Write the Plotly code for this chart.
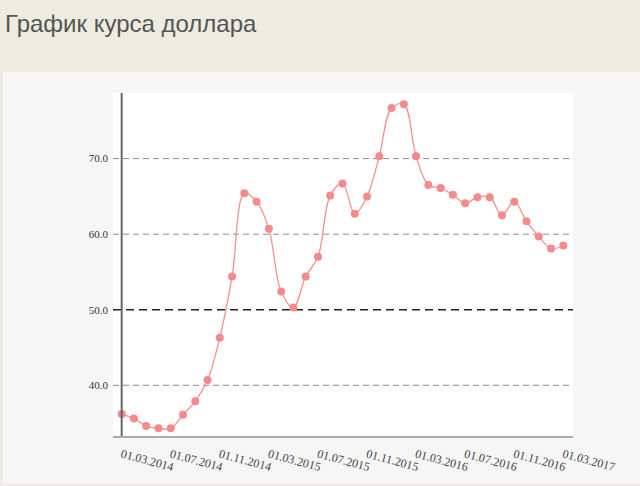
import plotly.graph_objects as go

# monthly dollar rate, 01.03.2014 .. 01.03.2017
dates = ['01.03.2014', '01.04.2014', '01.05.2014', '01.06.2014', '01.07.2014', '01.08.2014',
         '01.09.2014', '01.10.2014', '01.11.2014', '01.12.2014', '01.01.2015', '01.02.2015',
         '01.03.2015', '01.04.2015', '01.05.2015', '01.06.2015', '01.07.2015', '01.08.2015',
         '01.09.2015', '01.10.2015', '01.11.2015', '01.12.2015', '01.01.2016', '01.02.2016',
         '01.03.2016', '01.04.2016', '01.05.2016', '01.06.2016', '01.07.2016', '01.08.2016',
         '01.09.2016', '01.10.2016', '01.11.2016', '01.12.2016', '01.01.2017', '01.02.2017',
         '01.03.2017']
rate = [36.2, 35.6, 34.6, 34.3, 34.3, 36.1, 37.9, 40.7, 46.3, 54.4, 65.4, 64.3,
        60.7, 52.4, 50.3, 54.4, 57.0, 65.1, 66.7, 62.7, 65.0, 70.3, 76.7, 77.2,
        70.3, 66.5, 66.1, 65.2, 64.1, 64.9, 64.9, 62.5, 64.3, 61.7, 59.7, 58.1,
        58.5]
tick_labels = dates[::4]
y_ticks = [40, 50, 60, 70]
dark_level = 50

W, H = 640, 486
L, R, T, B = 113, 67, 93, 48
pw, ph = W - L - R, H - T - B


def px_x(p):
    return (p - L) / pw


def px_y(p):
    return (H - B - p) / ph


fig = go.Figure()

fig.add_trace(go.Scatter(
    x=dates, y=rate,
    mode='lines+markers',
    line=dict(color='#f59090', width=1.3, shape='spline', smoothing=1),
    marker=dict(color='#f48a8a', size=8),
    showlegend=False,
))

shapes = [
    # grey panel under the chart
    dict(type='rect', xref='paper', yref='paper', layer='below',
         x0=px_x(3), x1=px_x(W), y0=px_y(72), y1=px_y(H),
         fillcolor='#f6f6f6', line=dict(width=0)),
    # white plot area on top of the panel
    dict(type='rect', xref='paper', yref='paper', layer='below',
         x0=0, x1=1, y0=0, y1=1,
         fillcolor='#ffffff', line=dict(width=0)),
]

# dashed grid lines, the 50 line darker
for v in y_ticks:
    if v == dark_level:
        ln = dict(color='#222222', width=1.3, dash='8px,5px')
    else:
        ln = dict(color='#8c8c8c', width=1, dash='6px,4px')
    shapes.append(dict(type='line', xref='paper', yref='y', layer='between',
                       x0=0, x1=1, y0=v, y1=v, line=ln))

# y axis line at the first point
shapes.append(dict(type='line', xref='x', yref='paper', layer='above',
                   x0=dates[0], x1=dates[0], y0=0, y1=1,
                   line=dict(color='#666666', width=2)))

fig.update_layout(
    width=W, height=H,
    margin=dict(l=L, r=R, t=T, b=B),
    paper_bgcolor='#eeece0',
    plot_bgcolor='#ffffff',
    shapes=shapes,
    title=dict(text='График курса доллара', x=5 / W, xanchor='left',
               y=1 - 24 / H, yanchor='middle',
               font=dict(family='Liberation Sans, Arial', size=24, color='#555555')),
    xaxis=dict(
        type='category',
        range=[-0.707, len(dates) - 1 + 0.79],
        tickmode='array', tickvals=tick_labels, ticktext=tick_labels,
        tickangle=15,
        tickfont=dict(family='Liberation Serif, Times New Roman', size=12, color='#444444'),
        showgrid=False, zeroline=False,
        showline=True, linecolor='#aaaaaa', linewidth=2,
        ticks='', ticklabelstandoff=5,
    ),
    yaxis=dict(
        range=[33.29, 78.68],
        tickmode='array', tickvals=y_ticks,
        tickformat='.1f',
        tickfont=dict(family='Liberation Serif, Times New Roman', size=11, color='#333333'),
        showgrid=False, zeroline=False, showline=False, ticks='',
        ticklabelstandoff=4,
    ),
)

fig.write_html("out.html", config={'displayModeBar': False},
               post_script="document.body.style.margin='0';")
